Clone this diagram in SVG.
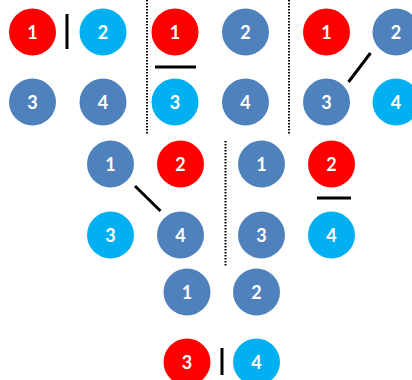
<svg xmlns="http://www.w3.org/2000/svg" width="412" height="380" viewBox="0 0 412 380">
  <style>
    .n circle { stroke: none; }
    .red { fill: #FF0000; }
    .cyan { fill: #00B0F0; }
    .blue { fill: #4F81BD; }
    .n text { fill: #FFFFFF; font-family: Lato, "Liberation Sans", sans-serif; font-weight: bold; font-size: 18px; text-anchor: middle; dominant-baseline: central; }
    .bar { stroke: #000000; stroke-width: 3; fill: none; }
    .sep { stroke: #000000; stroke-width: 2; stroke-dasharray: 1.5 1.5; fill: none; }
  </style>
  <rect width="412" height="380" fill="#FFFFFF"/>

  <!-- panel A -->
  <g id="a1" class="n"><circle class="red" cx="32.5" cy="32" r="23.5"/><text x="32.5" y="32">1</text></g>
  <g id="a2" class="n"><circle class="cyan" cx="103" cy="32" r="23.5"/><text x="103" y="32">2</text></g>
  <g id="a3" class="n"><circle class="blue" cx="32.5" cy="102" r="23.5"/><text x="32.5" y="102">3</text></g>
  <g id="a4" class="n"><circle class="blue" cx="103" cy="102" r="23.5"/><text x="103" y="102">4</text></g>

  <!-- panel B -->
  <g id="b1" class="n"><circle class="red" cx="175" cy="32" r="23.5"/><text x="175" y="32">1</text></g>
  <g id="b2" class="n"><circle class="blue" cx="245.5" cy="32" r="23.5"/><text x="245.5" y="32">2</text></g>
  <g id="b3" class="n"><circle class="cyan" cx="175" cy="102" r="23.5"/><text x="175" y="102">3</text></g>
  <g id="b4" class="n"><circle class="blue" cx="245.5" cy="102" r="23.5"/><text x="245.5" y="102">4</text></g>

  <!-- panel C -->
  <g id="c1" class="n"><circle class="red" cx="326.5" cy="32" r="23.5"/><text x="326.5" y="32">1</text></g>
  <g id="c2" class="n"><circle class="blue" cx="396" cy="32" r="23.5"/><text x="396" y="32">2</text></g>
  <g id="c3" class="n"><circle class="blue" cx="326.5" cy="102" r="23.5"/><text x="326.5" y="102">3</text></g>
  <g id="c4" class="n"><circle class="cyan" cx="396" cy="102" r="23.5"/><text x="396" y="102">4</text></g>

  <!-- panel D -->
  <g id="d1" class="n"><circle class="blue" cx="110.5" cy="164" r="23.5"/><text x="110.5" y="164">1</text></g>
  <g id="d2" class="n"><circle class="red" cx="180.5" cy="164" r="23.5"/><text x="180.5" y="164">2</text></g>
  <g id="d3" class="n"><circle class="cyan" cx="110.5" cy="235" r="23.5"/><text x="110.5" y="235">3</text></g>
  <g id="d4" class="n"><circle class="blue" cx="180.5" cy="235" r="23.5"/><text x="180.5" y="235">4</text></g>

  <!-- panel E -->
  <g id="e1" class="n"><circle class="blue" cx="261.5" cy="164" r="23.5"/><text x="261.5" y="164">1</text></g>
  <g id="e2" class="n"><circle class="red" cx="331.5" cy="164" r="23.5"/><text x="331.5" y="164">2</text></g>
  <g id="e3" class="n"><circle class="blue" cx="261.5" cy="235" r="23.5"/><text x="261.5" y="235">3</text></g>
  <g id="e4" class="n"><circle class="cyan" cx="331.5" cy="235" r="23.5"/><text x="331.5" y="235">4</text></g>

  <!-- panel F -->
  <g id="f1" class="n"><circle class="blue" cx="187" cy="292" r="23.5"/><text x="187" y="292">1</text></g>
  <g id="f2" class="n"><circle class="blue" cx="256.5" cy="292" r="23.5"/><text x="256.5" y="292">2</text></g>
  <g id="f3" class="n"><circle class="red" cx="187" cy="362" r="23.5"/><text x="187" y="362">3</text></g>
  <g id="f4" class="n"><circle class="cyan" cx="256.5" cy="362" r="23.5"/><text x="256.5" y="362">4</text></g>

  <!-- separators and cut marks -->
  <g id="connectors">
    <line class="sep" x1="147" y1="0" x2="147" y2="135"/>
    <line class="sep" x1="289" y1="0" x2="289" y2="135"/>
    <line class="sep" x1="225.5" y1="141" x2="225.5" y2="267"/>
    <line class="bar" x1="67" y1="14" x2="67" y2="49"/>
    <line class="bar" x1="155" y1="67" x2="196" y2="67"/>
    <line class="bar" x1="370.5" y1="53" x2="348.5" y2="82"/>
    <line class="bar" x1="135" y1="186" x2="160.5" y2="211"/>
    <line class="bar" x1="317" y1="198" x2="351" y2="198"/>
    <line class="bar" x1="222" y1="348" x2="222" y2="375"/>
  </g>
</svg>
